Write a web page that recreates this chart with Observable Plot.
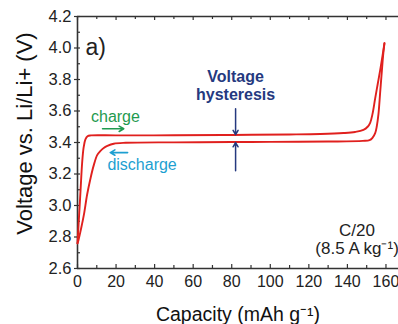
<!DOCTYPE html>
<html>
<head>
<meta charset="utf-8">
<script src="https://cdn.jsdelivr.net/npm/d3@7"></script>
<script src="https://cdn.jsdelivr.net/npm/@observablehq/plot@0.6"></script>
<style>
  html, body { margin: 0; padding: 0; background: #fff; }
  #chart svg { display: block; }
</style>
</head>
<body>
<div id="chart"></div>
<script>
// Charge curve (upper): capacity (mAh/g) and voltage (V)
const chargeCapacity = [0, 0.8, 1.6, 2.4, 3.2, 4.1, 5.2, 7, 20, 50, 80, 110, 126, 138, 144, 148.3, 150.5, 151.8, 153, 154.4, 155.7, 157, 158.2, 159.2];
const chargeVoltage  = [2.76, 2.93, 3.10, 3.27, 3.37, 3.42, 3.44, 3.445, 3.445, 3.446, 3.448, 3.451, 3.454, 3.46, 3.467, 3.48, 3.50, 3.525, 3.58, 3.68, 3.77, 3.86, 3.95, 4.03];

// Discharge curve (lower)
const dischargeCapacity = [159.2, 158.5, 157.9, 157, 156.1, 155.2, 154.4, 153, 151.5, 148, 130, 100, 80, 50, 25, 18.8, 15.5, 13.6, 11.8, 10.2, 8.3, 6.7, 5, 3.3, 1.8, 0.5, 0];
const dischargeVoltage  = [4.03, 3.95, 3.86, 3.72, 3.58, 3.50, 3.46, 3.43, 3.415, 3.41, 3.406, 3.404, 3.403, 3.401, 3.398, 3.392, 3.378, 3.365, 3.345, 3.32, 3.25, 3.17, 3.07, 2.94, 2.85, 2.78, 2.76];

// Axis ticks
const xTicks = [0, 20, 40, 60, 80, 100, 120, 140, 160];
const xMinorTicks = [10, 30, 50, 70, 90, 110, 130, 150];
const yTicks = [2.6, 2.8, 3.0, 3.2, 3.4, 3.6, 3.8, 4.0, 4.2];
const yMinorTicks = [2.7, 2.9, 3.1, 3.3, 3.5, 3.7, 3.9, 4.1];

// Annotations
const panelLabel = ["a)"];
const hysteresisX = 82;
const hysteresisLines = ["Voltage", "hysteresis"];
const rateLines = ["C/20", "(8.5 A kg\u207B\u00B9)"];

const charge = chargeCapacity.map((c, i) => ({capacity: c, voltage: chargeVoltage[i]}));
const discharge = dischargeCapacity.map((c, i) => ({capacity: c, voltage: dischargeVoltage[i]}));

const W = 398, H = 324;
const mL = 77, mR = 0, mT = 16, mB = 56;
const fw = W - mL - mR, fh = H - mT - mB;
const axisColor = "#333";
const font = "Liberation Sans, Arial, sans-serif";

const chart = Plot.plot({
  width: W,
  height: H,
  marginLeft: mL,
  marginRight: mR,
  marginTop: mT,
  marginBottom: mB,
  style: {fontFamily: font, background: "#fff", overflow: "visible"},
  x: {domain: [0, 166.5], axis: null},
  y: {domain: [2.6, 4.2], axis: null},
  marks: [
    // axis lines
    Plot.ruleX([0], {stroke: axisColor, strokeWidth: 1.6}),
    Plot.ruleY([2.6, 4.2], {stroke: axisColor, strokeWidth: 1.6}),
    // bottom ticks (inward)
    Plot.tickX(xTicks, {x: d => d, insetTop: fh - 4, stroke: axisColor, strokeWidth: 1.2}),
    Plot.tickX(xMinorTicks, {x: d => d, insetTop: fh - 3, stroke: axisColor, strokeWidth: 1.2}),
    // top ticks (inward)
    Plot.tickX(xTicks, {x: d => d, insetBottom: fh - 4, stroke: axisColor, strokeWidth: 1.2}),
    Plot.tickX(xMinorTicks, {x: d => d, insetBottom: fh - 3, stroke: axisColor, strokeWidth: 1.2}),
    // left ticks
    Plot.tickY(yTicks, {y: d => d, insetRight: fw - 3, insetLeft: -3, stroke: axisColor, strokeWidth: 1.2}),
    Plot.tickY(yMinorTicks, {y: d => d, insetRight: fw - 3, stroke: axisColor, strokeWidth: 1.2}),
    // tick labels
    Plot.text(xTicks, {x: d => d, frameAnchor: "bottom", dy: 7, text: d => String(d), fontSize: 16, fill: "#222", lineAnchor: "top", textAnchor: "middle"}),
    Plot.text(yTicks, {y: d => d, frameAnchor: "left", dx: -6, text: d => d.toFixed(1), fontSize: 16.5, fill: "#222", textAnchor: "end"}),
    // axis titles
    Plot.text(["Capacity (mAh g\u207B\u00B9)"], {frameAnchor: "bottom", dy: 52, text: d => d, fontSize: 19.5, fill: "#111", lineAnchor: "bottom", textAnchor: "middle"}),
    Plot.text(["Voltage vs. Li/Li+ (V)"], {frameAnchor: "left", dx: -53, dy: -9, rotate: -90, text: d => d, fontSize: 22, fill: "#111", textAnchor: "middle"}),
    // curves
    Plot.line(charge, {x: "capacity", y: "voltage", stroke: "#e0201e", strokeWidth: 1.9, curve: "catmull-rom"}),
    Plot.line(discharge, {x: "capacity", y: "voltage", stroke: "#e0201e", strokeWidth: 1.9, curve: "catmull-rom"}),
    // panel label
    Plot.text(panelLabel, {frameAnchor: "top-left", dx: 8, dy: 22, text: d => d, fontSize: 23, fill: "#222", textAnchor: "start"}),
    // charge / discharge labels with arrows
    Plot.text(["charge"], {x: 7, y: 3.56, text: d => d, fontSize: 16, fill: "#1f9a4f", textAnchor: "start"}),
    Plot.arrow([{x1: 13, x2: 24, y: 3.487}], {x1: "x1", x2: "x2", y1: "y", y2: "y", stroke: "#1f9a4f", strokeWidth: 1.6, headLength: 5}),
    Plot.arrow([{x1: 26, x2: 17, y: 3.336}], {x1: "x1", x2: "x2", y1: "y", y2: "y", stroke: "#1d9fd1", strokeWidth: 1.6, headLength: 5}),
    Plot.text(["discharge"], {x: 15.5, y: 3.258, text: d => d, fontSize: 16, fill: "#1d9fd1", textAnchor: "start"}),
    // voltage hysteresis
    Plot.text(hysteresisLines, {x: hysteresisX, y: (d, i) => [3.815, 3.70][i], text: d => d, fontSize: 16, fontWeight: "bold", fill: "#25397f", textAnchor: "middle"}),
    Plot.arrow([{x: hysteresisX, y1: 3.614, y2: 3.45}], {x1: "x", x2: "x", y1: "y1", y2: "y2", stroke: "#25397f", strokeWidth: 1.5, headLength: 5}),
    Plot.arrow([{x: hysteresisX, y1: 3.22, y2: 3.4}], {x1: "x", x2: "x", y1: "y1", y2: "y2", stroke: "#25397f", strokeWidth: 1.5, headLength: 5}),
    // rate label
    Plot.text(rateLines, {x: 145, y: (d, i) => [2.84, 2.725][i], text: d => d, fontSize: 17, fill: "#222", textAnchor: "middle"})
  ]
});
document.getElementById("chart").appendChild(chart);
</script>
</body>
</html>
